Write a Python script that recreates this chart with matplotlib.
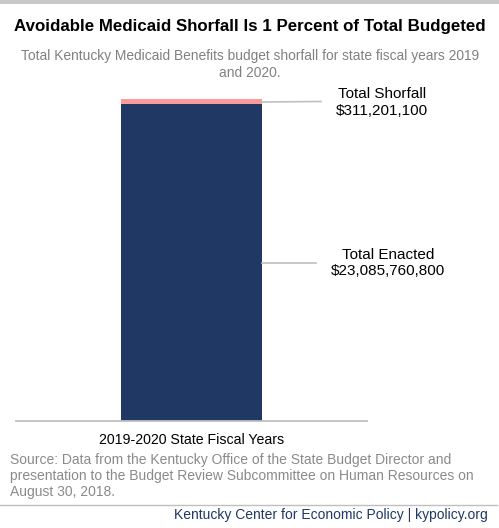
import matplotlib
matplotlib.use("Agg")
import matplotlib.pyplot as plt
from matplotlib.lines import Line2D
from matplotlib.patches import Rectangle

# Data
categories = ["2019-2020 State Fiscal Years"]
enacted = [23085760800]
shortfall = [311201100]
labels = ["Total Enacted\n$23,085,760,800", "Total Shorfall\n$311,201,100"]

title = "Avoidable Medicaid Shorfall Is 1 Percent of Total Budgeted"
subtitle = "Total Kentucky Medicaid Benefits budget shorfall for state fiscal years 2019\nand 2020."
source = ("Source: Data from the Kentucky Office of the State Budget Director and\n"
          "presentation to the Budget Review Subcommittee on Human Resources on\n"
          "August 30, 2018.")
footer = "Kentucky Center for Economic Policy | kypolicy.org"

NAVY = "#1f3864"
PINK = "#ff9a9a"
GRID = "#bfbfbf"
FONT = "Liberation Sans"

W, H = 499, 528
fig = plt.figure(figsize=(W / 100, H / 100), dpi=100)
fig.patch.set_facecolor("white")

def fx(x):
    return x / W

def fy(y):
    return 1 - y / H

# top gray band
fig.add_artist(Rectangle((0, fy(3.5)), 1, 3.5 / H, transform=fig.transFigure,
                         facecolor="#c8c8c8", edgecolor="none"))

fig.text(fx(250), fy(27), title, ha="center", va="center", fontsize=12.2,
         fontweight="bold", family=FONT, color="black")
fig.text(fx(250), fy(64.5), subtitle, ha="center", va="center", fontsize=9.9,
         family=FONT, color="#808080", linespacing=1.3)

# axes
ax_l, ax_r = 16, 367
ax_b, ax_t = 420.7, 99.3
ax = fig.add_axes([fx(ax_l), fy(ax_b), (ax_r - ax_l) / W, (ax_b - ax_t) / H])
ax.set_xlim(-0.5, 0.5)
total = enacted[0] + shortfall[0]
ax.set_ylim(0, total)
x = list(range(len(categories)))
ax.bar(x, enacted, width=0.4, color=NAVY, edgecolor="none")
ax.bar(x, shortfall, bottom=enacted, width=0.4, color=PINK, edgecolor="none")
for s in ["top", "right", "left"]:
    ax.spines[s].set_visible(False)
ax.spines["bottom"].set_color(GRID)
ax.spines["bottom"].set_linewidth(1.3)
ax.set_yticks([])
ax.set_xticks(x)
ax.set_xticklabels(categories, fontsize=10.2, family=FONT)
ax.tick_params(axis="x", length=0, pad=9)

# leader lines and labels
bar_right = 0.2
ax.annotate(labels[0], xy=(bar_right, enacted[0] / 2), xycoords="data",
            xytext=(fx(388), fy(263)), textcoords="figure fraction",
            ha="center", va="center", fontsize=11, family=FONT,
            annotation_clip=False)
fig.add_artist(Line2D([fx(261.7), fx(316)], [fy(262.7), fy(262.7)],
                      color=GRID, lw=1.2, transform=fig.transFigure))
ax.annotate(labels[1], xy=(bar_right, enacted[0] + shortfall[0] / 2), xycoords="data",
            xytext=(fx(382), fy(102.5)), textcoords="figure fraction",
            ha="center", va="center", fontsize=11, family=FONT,
            annotation_clip=False)
fig.add_artist(Line2D([fx(261.7), fx(321)], [fy(102), fy(101.5)],
                      color=GRID, lw=1.2, transform=fig.transFigure))

fig.text(fx(10), fy(476), source, ha="left", va="center", fontsize=10,
         family=FONT, color="#8a8a8a", linespacing=1.2)
fig.add_artist(Line2D([0, fx(497)], [fy(505), fy(505)], color=GRID, lw=1.0,
                      transform=fig.transFigure))
fig.text(fx(488), fy(515), footer, ha="right", va="center", fontsize=10,
         family=FONT, color=NAVY)

fig.savefig("out.png", dpi=100, facecolor="white")
